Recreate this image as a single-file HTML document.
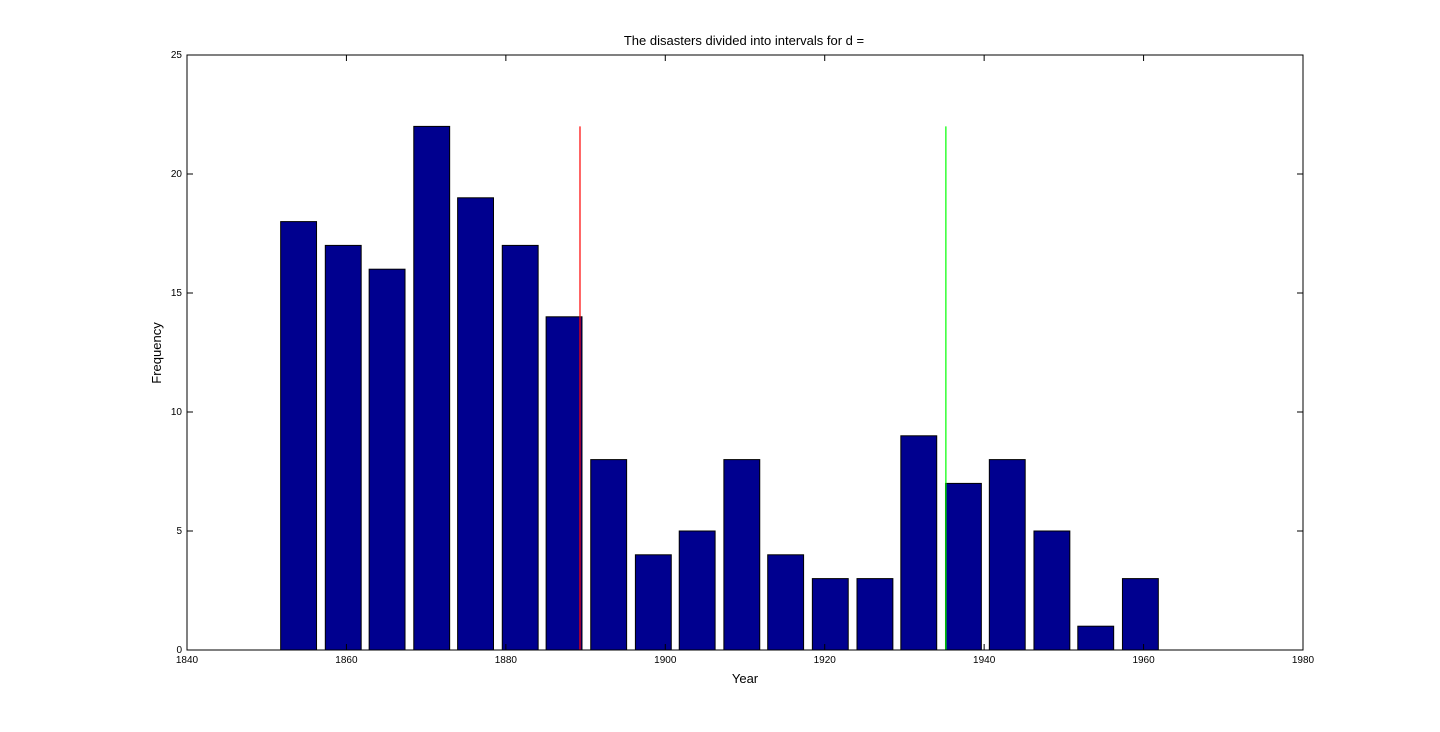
<!DOCTYPE html>
<html><head><meta charset="utf-8"><style>
body{margin:0;background:#fff;}
svg{display:block;font-family:"Liberation Sans",sans-serif;}
</style></head><body>
<svg id="chart" width="1440" height="732"></svg>
<script>
const years=[1854,1859.6,1865.1,1870.7,1876.2,1881.8,1887.3,1892.9,1898.5,1904,1909.6,1915.1,1920.7,1926.3,1931.8,1937.4,1942.9,1948.5,1954,1959.6];
const counts=[18,17,16,22,19,17,14,8,4,5,8,4,3,3,9,7,8,5,1,3];
const xTicks=[1840,1860,1880,1900,1920,1940,1960,1980];
const yTicks=[0,5,10,15,20,25];
const redLineYear=1889.3, greenLineYear=1935.2, lineTop=22;
const barWidthYears=4.5;

const L=187,R=1303,T=55,B=650;
const xs=v=>L+(v-1840)/(1980-1840)*(R-L);
const ys=v=>B-(v/25)*(B-T);
const NS="http://www.w3.org/2000/svg";
const svg=document.getElementById('chart');
function mk(tag,attrs){const e=document.createElementNS(NS,tag);for(const k in attrs)e.setAttribute(k,attrs[k]);svg.appendChild(e);return e;}

let bg=mk('rect',{x:L,y:T,width:R-L,height:B-T,fill:'#fff'});



years.forEach((y,i)=>{
  const x0=xs(y-barWidthYears/2),x1=xs(y+barWidthYears/2);
  const b=mk('rect',{x:x0,y:ys(counts[i]),width:x1-x0,height:B-ys(counts[i]),fill:'#00008f',stroke:'#000','stroke-width':1});
  
  
});

let rl=mk('line',{x1:xs(redLineYear),x2:xs(redLineYear),y1:ys(lineTop),y2:B,stroke:'#ff0000','stroke-width':1.2});


let gl=mk('line',{x1:xs(greenLineYear),x2:xs(greenLineYear),y1:ys(lineTop),y2:B,stroke:'#00ff00','stroke-width':1.2});



let frame=mk('rect',{x:L,y:T,width:R-L,height:B-T,fill:'none',stroke:'#000','stroke-width':1});



xTicks.forEach(t=>{
  const x=xs(t);
  mk('line',{x1:x,x2:x,y1:B,y2:B-6,stroke:'#000'});
  mk('line',{x1:x,x2:x,y1:T,y2:T+6,stroke:'#000'});
  const tx=mk('text',{x:x,y:B+13,'font-size':10,'text-anchor':'middle',fill:'#000'});
  tx.textContent=t;
  
  
});
yTicks.forEach(t=>{
  const y=ys(t);
  mk('line',{x1:L,x2:L+6,y1:y,y2:y,stroke:'#000'});
  mk('line',{x1:R,x2:R-6,y1:y,y2:y,stroke:'#000'});
  const tx=mk('text',{x:L-5,y:y+3,'font-size':10,'text-anchor':'end',fill:'#000'});
  tx.textContent=t;
  
  
});

let title=mk('text',{x:744,y:45,'font-size':13,'text-anchor':'middle',fill:'#000'});
title.textContent='The disasters divided into intervals for d =';


let xl=mk('text',{x:745,y:683,'font-size':13,'text-anchor':'middle',fill:'#000'});
xl.textContent='Year';


let yl=mk('text',{x:161,y:353,'font-size':13,'text-anchor':'middle',fill:'#000',transform:'rotate(-90 161 353)'});
yl.textContent='Frequency';


</script>
</body></html>
